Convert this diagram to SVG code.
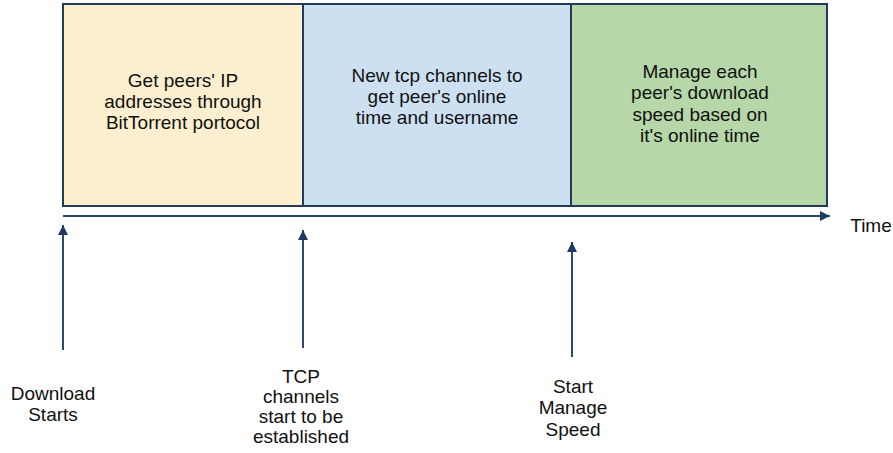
<svg xmlns="http://www.w3.org/2000/svg" width="893" height="453" viewBox="0 0 893 453">
<defs>
<style>
.box{stroke:#243b55;stroke-width:2}
.t{font-family:"Liberation Sans",Arial,sans-serif;font-size:19px;fill:#111;text-anchor:middle}
.ln{stroke:#2a4a6e;stroke-width:2;fill:none}
</style>
<marker id="ah" viewBox="0 0 10 10" refX="10" refY="5" markerWidth="14" markerHeight="10" markerUnits="userSpaceOnUse" orient="auto">
<path d="M0,0 L10,5 L0,10 z" fill="#1f3864"/>
</marker>
<marker id="av" viewBox="0 0 10 10" refX="10" refY="5" markerWidth="13" markerHeight="10" markerUnits="userSpaceOnUse" orient="auto">
<path d="M0,0 L10,5 L0,10 z" fill="#1f3864"/>
</marker>
</defs>
<rect width="893" height="453" fill="#fff"/>
<g id="phase1">
<rect class="box" x="63" y="4" width="240" height="202" fill="#fcefcf"/>
<text class="t" x="183" y="87">Get peers' IP</text>
<text class="t" x="183" y="108">addresses through</text>
<text class="t" x="183" y="129">BitTorrent portocol</text>
</g>
<g id="phase2">
<rect class="box" x="303" y="4" width="268" height="202" fill="#cde0f2"/>
<text class="t" x="437" y="82">New tcp channels to</text>
<text class="t" x="437" y="103">get peer's online</text>
<text class="t" x="437" y="124">time and username</text>
</g>
<g id="phase3">
<rect class="box" x="571" y="4" width="256" height="202" fill="#b6d7a8"/>
<text class="t" x="700" y="78">Manage each</text>
<text class="t" x="700" y="99">peer's download</text>
<text class="t" x="700" y="121">speed based on</text>
<text class="t" x="700" y="142">it's online time</text>
</g>
<g id="time-label">
<text class="t" x="871" y="232">Time</text>
</g>
<g id="event-download">
<text class="t" x="53" y="400">Download</text>
<text class="t" x="53" y="421">Starts</text>
</g>
<g id="event-tcp">
<text class="t" x="301" y="383">TCP</text>
<text class="t" x="301" y="403">channels</text>
<text class="t" x="301" y="423">start to be</text>
<text class="t" x="301" y="443">established</text>
</g>
<g id="event-manage">
<text class="t" x="573" y="393">Start</text>
<text class="t" x="573" y="414">Manage</text>
<text class="t" x="573" y="436">Speed</text>
</g>
<g id="connectors">
<line class="ln" x1="63" y1="216" x2="830" y2="216" marker-end="url(#ah)"/>
<line class="ln" x1="63" y1="350" x2="63" y2="225" marker-end="url(#av)"/>
<line class="ln" x1="303" y1="348" x2="303" y2="230" marker-end="url(#av)"/>
<line class="ln" x1="572" y1="357" x2="572" y2="242" marker-end="url(#av)"/>
</g>
</svg>
